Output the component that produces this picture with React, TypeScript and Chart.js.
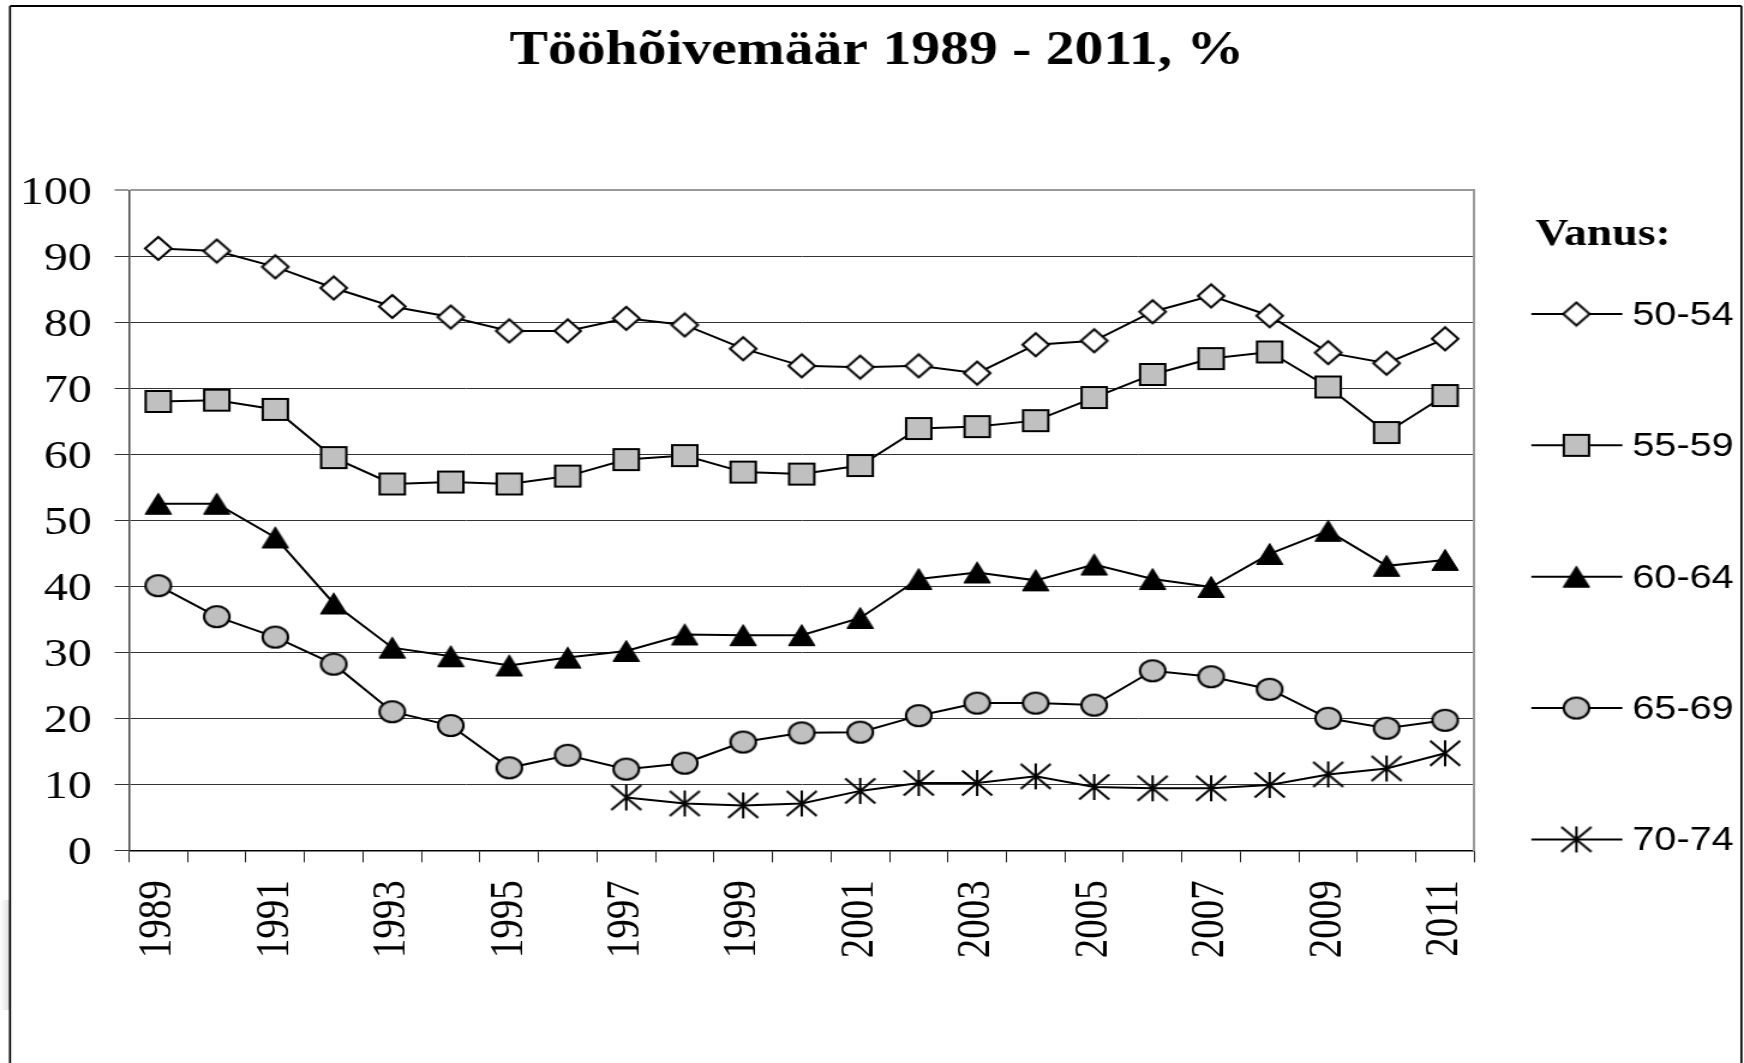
import React, { useEffect, useRef } from 'react';
import { Chart, registerables } from 'chart.js';

Chart.register(...registerables);

// The reference picture is horizontally stretched by ~1.2; we draw on a narrower canvas and stretch it with CSS.
const SX = 1.2;
const FULL_W = 1744;
const FULL_H = 1063;
const W = Math.round(FULL_W / SX);

const SERIF = '"Liberation Serif", "Times New Roman", "DejaVu Serif", serif';
const SANS = '"Liberation Sans", Arial, "DejaVu Sans", sans-serif';

const titleText = 'Tööhõivemäär 1989 - 2011, %';
const legendTitle = 'Vanus:';

const years = [
  '1989', '1990', '1991', '1992', '1993', '1994', '1995', '1996', '1997', '1998', '1999', '2000',
  '2001', '2002', '2003', '2004', '2005', '2006', '2007', '2008', '2009', '2010', '2011',
];

const seriesLabels = ['50-54', '55-59', '60-64', '65-69', '70-74'];

const age5054 = [91.2, 90.8, 88.4, 85.2, 82.4, 80.8, 78.7, 78.7, 80.6, 79.6, 76.0, 73.4, 73.2, 73.4, 72.3, 76.6, 77.2, 81.6, 84.0, 81.0, 75.4, 73.8, 77.5];
const age5559 = [68.0, 68.2, 66.8, 59.5, 55.5, 55.8, 55.5, 56.7, 59.2, 59.8, 57.3, 57.0, 58.3, 63.9, 64.2, 65.1, 68.6, 72.1, 74.5, 75.5, 70.2, 63.3, 68.9];
const age6064 = [52.5, 52.5, 47.4, 37.4, 30.7, 29.4, 28.0, 29.2, 30.2, 32.7, 32.6, 32.6, 35.2, 41.1, 42.1, 40.9, 43.3, 41.1, 39.9, 44.9, 48.4, 43.1, 44.0];
const age6569 = [40.1, 35.4, 32.3, 28.2, 21.0, 18.9, 12.5, 14.4, 12.3, 13.2, 16.4, 17.8, 17.9, 20.4, 22.3, 22.3, 22.0, 27.2, 26.3, 24.4, 20.0, 18.5, 19.7];
const age7074 = [null, null, null, null, null, null, null, null, 8.0, 7.1, 6.8, 7.1, 9.0, 10.2, 10.2, 11.2, 9.6, 9.4, 9.4, 9.9, 11.5, 12.4, 14.7];

const yMin = 0;
const yMax = 100;
const yStep = 10;

function makeCanvas(w: number, h: number, draw: (g: CanvasRenderingContext2D) => void) {
  const c = document.createElement('canvas');
  c.width = w;
  c.height = h;
  const g = c.getContext('2d')!;
  draw(g);
  return c;
}

function makeMarkers() {
  const diamond = makeCanvas(26, 27, (g) => {
    g.beginPath();
    g.moveTo(13, 2);
    g.lineTo(24, 13.5);
    g.lineTo(13, 25);
    g.lineTo(2, 13.5);
    g.closePath();
    g.fillStyle = '#ffffff';
    g.fill();
    g.lineWidth = 2;
    g.strokeStyle = '#000';
    g.stroke();
  });
  const square = makeCanvas(25, 25, (g) => {
    g.beginPath();
    g.rect(2, 2, 21, 21);
    g.fillStyle = '#c0c0c0';
    g.fill();
    g.lineWidth = 2;
    g.strokeStyle = '#000';
    g.stroke();
  });
  const triangle = makeCanvas(24, 24, (g) => {
    g.beginPath();
    g.moveTo(12, 1.5);
    g.lineTo(23, 22.5);
    g.lineTo(1, 22.5);
    g.closePath();
    g.fillStyle = '#000';
    g.fill();
    g.lineWidth = 1;
    g.strokeStyle = '#000';
    g.stroke();
  });
  const circle = makeCanvas(25, 25, (g) => {
    g.beginPath();
    g.arc(12.5, 12.5, 10.6, 0, Math.PI * 2);
    g.fillStyle = '#c0c0c0';
    g.fill();
    g.lineWidth = 2;
    g.strokeStyle = '#000';
    g.stroke();
  });
  const star = makeCanvas(28, 28, (g) => {
    g.beginPath();
    g.moveTo(14, 1);
    g.lineTo(14, 27);
    g.moveTo(1.5, 1.5);
    g.lineTo(26.5, 26.5);
    g.moveTo(26.5, 1.5);
    g.lineTo(1.5, 26.5);
    g.lineWidth = 2;
    g.strokeStyle = '#000';
    g.stroke();
  });
  return [diamond, square, triangle, circle, star];
}

const framePlugin = {
  id: 'frame',
  beforeDraw(chart: any) {
    const ctx = chart.ctx;
    ctx.save();
    ctx.fillStyle = '#ffffff';
    ctx.fillRect(0, 0, chart.width, chart.height);
    // faint shadow at the lower left edge, outside the frame
    const grad = ctx.createLinearGradient(0, 0, 10 / SX, 0);
    grad.addColorStop(0, 'rgba(200,200,200,0.0)');
    grad.addColorStop(1, 'rgba(200,200,200,0.6)');
    ctx.fillStyle = grad;
    ctx.fillRect(0, 900, 10 / SX, 110);
    ctx.restore();
  },
  afterDraw(chart: any) {
    const ctx = chart.ctx;
    ctx.save();
    ctx.strokeStyle = '#000';
    ctx.lineWidth = 2;
    ctx.beginPath();
    ctx.moveTo(10 / SX, 6);
    ctx.lineTo(1741 / SX, 6);
    ctx.stroke();
    ctx.lineWidth = 1.7;
    ctx.beginPath();
    ctx.moveTo(10 / SX, 6);
    ctx.lineTo(10 / SX, FULL_H + 5);
    ctx.moveTo(1741 / SX, 6);
    ctx.lineTo(1741 / SX, FULL_H + 5);
    ctx.stroke();
    ctx.restore();
  },
};

const legendPlugin = {
  id: 'sideLegend',
  afterDraw(chart: any) {
    const ctx = chart.ctx;
    ctx.save();
    ctx.fillStyle = '#000';
    ctx.textAlign = 'left';
    ctx.textBaseline = 'alphabetic';
    ctx.font = `bold 38px ${SERIF}`;
    ctx.fillText(legendTitle, 1535 / SX, 245);
    chart.data.datasets.forEach((ds: any, i: number) => {
      const y = 314 + i * 131.35;
      ctx.strokeStyle = '#000';
      ctx.lineWidth = 2;
      ctx.beginPath();
      ctx.moveTo(1531 / SX, y);
      ctx.lineTo(1622 / SX, y);
      ctx.stroke();
      const img = ds.pointStyle as HTMLCanvasElement;
      ctx.drawImage(img, 1576 / SX - img.width / 2, y - img.height / 2);
      ctx.font = `33px ${SANS}`;
      ctx.textBaseline = 'middle';
      ctx.fillText(ds.label, 1632 / SX, y + 2);
    });
    ctx.restore();
  },
};

export default function App() {
  const ref = useRef<HTMLCanvasElement | null>(null);

  useEffect(() => {
    document.body.style.margin = '0';
    document.body.style.overflow = 'hidden';
    const canvas = ref.current;
    if (!canvas) return;
    const markers = makeMarkers();
    const seriesValues = [age5054, age5559, age6064, age6569, age7074];

    const chartLeft = 107.5;
    const chartRight = 1474 / SX;
    const chartTop = 190.3;
    const chartBottom = 850.3;
    const titleSize = 48;
    const titleLine = titleSize * 1.2;
    const titleTop = 22.5;

    const chart = new Chart(canvas, {
      type: 'line',
      data: {
        labels: years,
        datasets: seriesValues.map((vals, i) => ({
          label: seriesLabels[i],
          data: vals,
          borderColor: '#000',
          borderWidth: 2,
          backgroundColor: '#000',
          pointStyle: markers[i] as any,
          pointRadius: 12,
          pointHoverRadius: 12,
          tension: 0,
          fill: false,
          spanGaps: false,
        })),
      },
      options: {
        responsive: false,
        animation: false,
        events: [],
        layout: { padding: { left: 8, right: 0, top: 0, bottom: 0 } },
        plugins: {
          legend: { display: false },
          tooltip: { enabled: false },
          title: {
            display: true,
            text: titleText,
            color: '#000',
            font: { family: SERIF, size: titleSize, weight: 'bold', lineHeight: 1.2 },
            padding: { top: titleTop, bottom: chartTop - titleTop - titleLine },
          },
        },
        scales: {
          x: {
            type: 'category',
            offset: true,
            grid: {
              offset: true,
              drawOnChartArea: false,
              drawTicks: true,
              tickLength: 12,
              color: '#222',
              lineWidth: 1,
            },
            border: { display: true, color: '#000', width: 1.5 },
            ticks: {
              autoSkip: false,
              maxRotation: 90,
              minRotation: 90,
              padding: 18,
              color: '#000',
              font: { family: SERIF, size: 39 },
              callback: (_v: any, i: number) => (i % 2 === 0 ? years[i] : ''),
            },
            afterFit: (s: any) => {
              s.height = FULL_H - chartBottom;
            },
          },
          y: {
            min: yMin,
            max: yMax,
            ticks: {
              stepSize: yStep,
              padding: 19,
              labelOffset: 3,
              color: '#000',
              font: { family: SERIF, size: 40 },
            },
            grid: {
              color: (c: any) => (c.tick && c.tick.value === yMax ? '#999' : '#333'),
              lineWidth: (c: any) => (c.tick && c.tick.value === yMax ? 2 : 1),
              tickLength: 12,
            },
            border: { display: true, color: '#444', width: 1.5 },
            afterFit: (s: any) => {
              s.width = chartLeft - 8;
            },
          },
          yR: {
            type: 'linear',
            position: 'right',
            min: yMin,
            max: yMax,
            ticks: { display: false },
            grid: { drawOnChartArea: false, drawTicks: false },
            border: { display: true, color: '#999', width: 2 },
            afterFit: (s: any) => {
              s.width = W - chartRight;
            },
          },
        },
      } as any,
      plugins: [framePlugin, legendPlugin],
    });

    return () => {
      chart.destroy();
    };
  }, []);

  return (
    <canvas
      ref={ref}
      width={W}
      height={FULL_H}
      style={{ display: 'block', width: `${FULL_W}px`, height: `${FULL_H}px` }}
    />
  );
}
